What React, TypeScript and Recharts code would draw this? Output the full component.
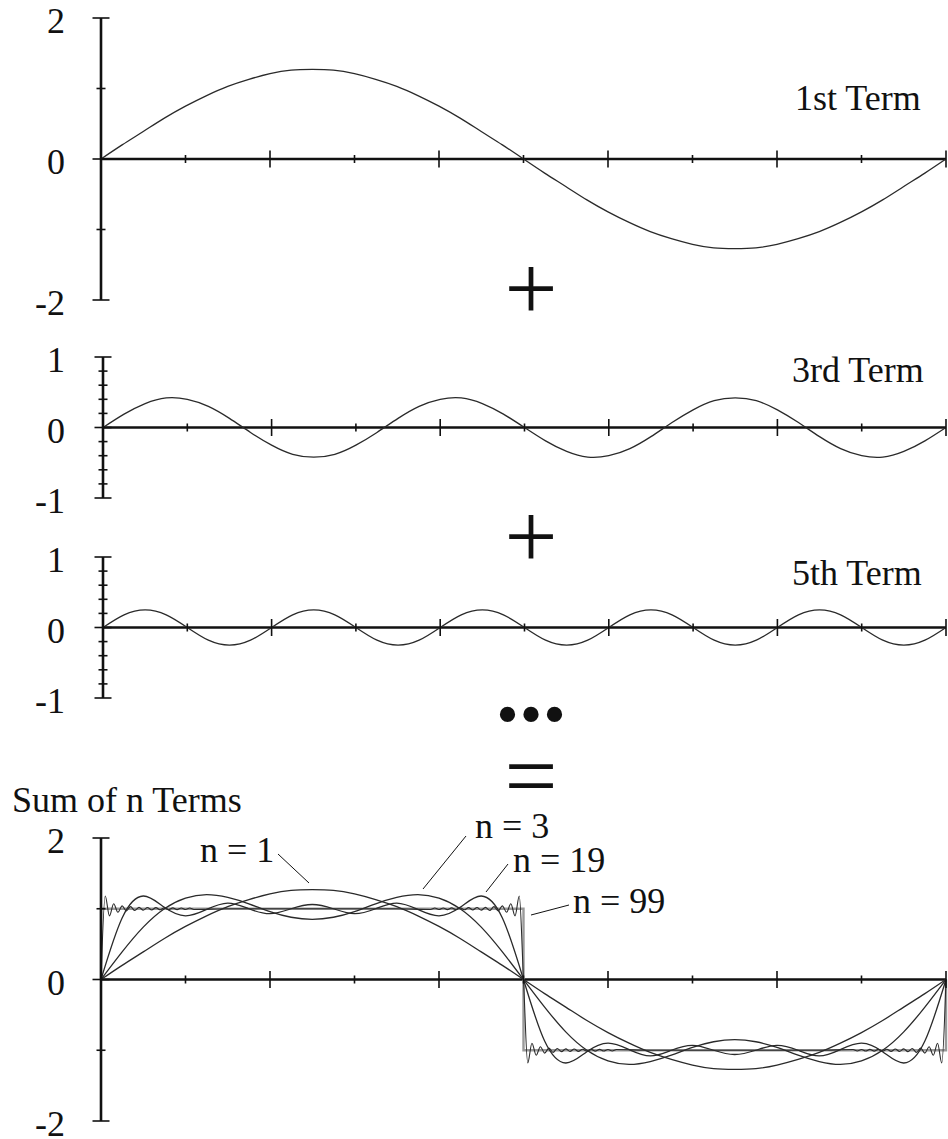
import React from "react";
import { LineChart, Line, XAxis, YAxis, ReferenceLine } from "recharts";

// shared x grid for the smooth curves (one full period = 10 units)
const xs = [
  0, 0.25, 0.5, 0.75, 1, 1.25, 1.5, 1.75, 2, 2.25, 2.5, 2.75, 3, 3.25, 3.5, 3.75, 4, 4.25, 4.5, 4.75, 5,
  5.25, 5.5, 5.75, 6, 6.25, 6.5, 6.75, 7, 7.25, 7.5, 7.75, 8, 8.25, 8.5, 8.75, 9, 9.25, 9.5, 9.75, 10,
];

const term1 = [
  0, 0.2, 0.39, 0.58, 0.75, 0.9, 1.03, 1.13, 1.21, 1.26, 1.27, 1.26, 1.21, 1.13, 1.03, 0.9, 0.75, 0.58, 0.39, 0.2, 0,
  -0.2, -0.39, -0.58, -0.75, -0.9, -1.03, -1.13, -1.21, -1.26, -1.27, -1.26, -1.21, -1.13, -1.03, -0.9, -0.75, -0.58, -0.39, -0.2, 0,
];

const term3 = [
  0, 0.19, 0.34, 0.42, 0.4, 0.3, 0.13, -0.07, -0.25, -0.38, -0.42, -0.38, -0.25, -0.07, 0.13, 0.3, 0.4, 0.42, 0.34, 0.19, 0,
  -0.19, -0.34, -0.42, -0.4, -0.3, -0.13, 0.07, 0.25, 0.38, 0.42, 0.38, 0.25, 0.07, -0.13, -0.3, -0.4, -0.42, -0.34, -0.19, 0,
];

const term5 = [
  0, 0.18, 0.25, 0.18, 0, -0.18, -0.25, -0.18, 0, 0.18, 0.25, 0.18, 0, -0.18, -0.25, -0.18, 0, 0.18, 0.25, 0.18, 0,
  -0.18, -0.25, -0.18, 0, 0.18, 0.25, 0.18, 0, -0.18, -0.25, -0.18, 0, 0.18, 0.25, 0.18, 0, -0.18, -0.25, -0.18, 0,
];

const sum3 = [
  0, 0.39, 0.74, 1.0, 1.15, 1.2, 1.16, 1.07, 0.96, 0.88, 0.85, 0.88, 0.96, 1.07, 1.16, 1.2, 1.15, 1.0, 0.74, 0.39, 0,
  -0.39, -0.74, -1.0, -1.15, -1.2, -1.16, -1.07, -0.96, -0.88, -0.85, -0.88, -0.96, -1.07, -1.16, -1.2, -1.15, -1.0, -0.74, -0.39, 0,
];

const sum19 = [
  0, 0.87, 1.18, 1.02, 0.9, 0.99, 1.08, 1.0, 0.93, 1.0, 1.06, 1.0, 0.93, 1.0, 1.08, 0.99, 0.9, 1.02, 1.18, 0.87, 0,
  -0.87, -1.18, -1.02, -0.9, -0.99, -1.08, -1.0, -0.93, -1.0, -1.06, -1.0, -0.93, -1.0, -1.08, -0.99, -0.9, -1.02, -1.18, -0.87, 0,
];

// n = 99 needs a finer grid near the jumps
const n99X = [
  0, 0.05, 0.1, 0.15, 0.2, 0.25, 0.3, 0.35, 0.4, 0.45, 0.5, 0.55, 0.6, 0.65, 0.7, 0.75, 0.8, 0.85, 0.9, 0.95, 1.0, 1.05, 1.1,
  1.5, 2.0, 2.5, 3.0, 3.5,
  3.9, 3.95, 4.0, 4.05, 4.1, 4.15, 4.2, 4.25, 4.3, 4.35, 4.4, 4.45, 4.5, 4.55, 4.6, 4.65, 4.7, 4.75, 4.8, 4.85, 4.9, 4.95, 5.0,
  5.05, 5.1, 5.15, 5.2, 5.25, 5.3, 5.35, 5.4, 5.45, 5.5, 5.55, 5.6, 5.65, 5.7, 5.75, 5.8, 5.85, 5.9, 5.95, 6.0, 6.05, 6.1,
  6.5, 7.0, 7.5, 8.0, 8.5,
  8.9, 8.95, 9.0, 9.05, 9.1, 9.15, 9.2, 9.25, 9.3, 9.35, 9.4, 9.45, 9.5, 9.55, 9.6, 9.65, 9.7, 9.75, 9.8, 9.85, 9.9, 9.95, 10.0,
];
const n99Y = [
  0, 1.18, 0.9, 1.07, 0.95, 1.04, 0.97, 1.03, 0.975, 1.02, 0.98, 1.018, 0.983, 1.016, 0.985, 1.014, 0.987, 1.012, 0.988, 1.011, 0.989, 1.01, 0.99,
  1, 1, 1, 1, 1,
  0.99, 1.01, 0.989, 1.011, 0.988, 1.012, 0.987, 1.014, 0.985, 1.016, 0.983, 1.018, 0.98, 1.02, 0.975, 1.03, 0.97, 1.04, 0.95, 1.07, 0.9, 1.18, 0,
  -1.18, -0.9, -1.07, -0.95, -1.04, -0.97, -1.03, -0.975, -1.02, -0.98, -1.018, -0.983, -1.016, -0.985, -1.014, -0.987, -1.012, -0.988, -1.011, -0.989, -1.01, -0.99,
  -1, -1, -1, -1, -1,
  -0.99, -1.01, -0.989, -1.011, -0.988, -1.012, -0.987, -1.014, -0.985, -1.016, -0.983, -1.018, -0.98, -1.02, -0.975, -1.03, -0.97, -1.04, -0.95, -1.07, -0.9, -1.18, 0,
];

// the target square wave
const squareX = [0, 0, 5, 5, 10, 10];
const squareY = [0, 1, 1, -1, -1, 0];

const xTicks = [0, 1, 2, 3, 4, 5, 6, 7, 8, 9, 10];
const bigTicks = [-2, -1, 0, 1, 2];
const bigLabels = [-2, 0, 2];
const smallTicks = [-1, -0.8, -0.6, -0.4, -0.2, 0, 0.2, 0.4, 0.6, 0.8, 1];
const smallLabels = [-1, 0, 1];

const FONT = "Liberation Serif, serif";
const INK = "#111";
const CURVE = "#2a2a2a";

const termRows = xs.map((x, i) => ({ x, t1: term1[i], t3: term3[i], t5: term5[i] }));
const sumRows = xs.map((x, i) => ({ x, s1: term1[i], s3: sum3[i], s19: sum19[i] }));
const n99Rows = n99X.map((x, i) => ({ x, y: n99Y[i] }));
const squareRows = squareX.map((x, i) => ({ x, y: squareY[i] }));

const M_TOP = 20;
const M_BOTTOM = 30;

function makeXTick(zeroY: number) {
  return (props: any) => {
    const { x, payload } = props;
    const h = payload.value % 2 === 0 ? 8.5 : 4;
    return <line x1={x} x2={x} y1={zeroY - h} y2={zeroY + h} stroke={INK} strokeWidth={1.6} />;
  };
}

function makeYTick(labels: number[], gap: number) {
  return (props: any) => {
    const { x, y, payload } = props;
    const v = payload.value;
    const labelled = labels.includes(v);
    const w = labelled ? 8.5 : 4.5;
    return (
      <g>
        <line x1={x - w} x2={x + w} y1={y} y2={y} stroke={INK} strokeWidth={1.6} />
        {labelled && (
          <text x={x - gap} y={y + 15} textAnchor="end" style={{ fontFamily: FONT, fontSize: 36 }} fill={INK}>
            {String(v)}
          </text>
        )}
      </g>
    );
  };
}

function Panel({
  top,
  left,
  plotH,
  max,
  ticks,
  labels,
  data,
  children,
}: {
  top: number;
  left: number;
  plotH: number;
  max: number;
  ticks: number[];
  labels: number[];
  data: any[];
  children: React.ReactNode;
}) {
  const zeroY = M_TOP + plotH / 2;
  return (
    <div style={{ position: "absolute", left: 0, top: top - M_TOP }}>
      <LineChart
        width={948}
        height={plotH + M_TOP + M_BOTTOM + 1}
        data={data}
        margin={{ top: M_TOP, right: 2, bottom: M_BOTTOM, left: 0 }}
      >
        <XAxis
          type="number"
          dataKey="x"
          domain={[0, 10]}
          ticks={xTicks}
          interval={0}
          height={1}
          axisLine={false}
          tickLine={false}
          tick={makeXTick(zeroY)}
        />
        <YAxis
          type="number"
          domain={[-max, max]}
          ticks={ticks}
          interval={0}
          width={left}
          tickSize={0}
          tickMargin={0}
          tickLine={false}
          axisLine={{ stroke: INK, strokeWidth: 2.6 }}
          tick={makeYTick(labels, left - 65)}
        />
        <ReferenceLine y={0} stroke={INK} strokeWidth={2.6} />
        {children}
      </LineChart>
    </div>
  );
}

const curve = {
  stroke: CURVE,
  strokeWidth: 1.3,
  dot: false,
  activeDot: false,
  isAnimationActive: false,
} as const;

const txt = { fontFamily: FONT, fontSize: 36 };
const sym = { fontFamily: FONT, fontSize: 94 };

export default function App() {
  return (
    <div
      style={{
        position: "absolute",
        left: 0,
        top: 0,
        width: 948,
        height: 1139,
        background: "#fff",
        overflow: "hidden",
        fontFamily: FONT,
      }}
    >
      <Panel top={18} left={101} plotH={282} max={2} ticks={bigTicks} labels={bigLabels} data={termRows}>
        <Line type="natural" dataKey="t1" {...curve} />
      </Panel>
      <Panel top={357} left={103} plotH={141} max={1} ticks={smallTicks} labels={smallLabels} data={termRows}>
        <Line type="natural" dataKey="t3" {...curve} />
      </Panel>
      <Panel top={557} left={103} plotH={141} max={1} ticks={smallTicks} labels={smallLabels} data={termRows}>
        <Line type="natural" dataKey="t5" {...curve} />
      </Panel>
      <Panel top={838} left={101} plotH={283} max={2} ticks={bigTicks} labels={bigLabels} data={sumRows}>
        <Line type="linear" data={squareRows} dataKey="y" {...curve} stroke="#9a9a9a" strokeWidth={2.4} />
        <Line type="natural" dataKey="s1" {...curve} />
        <Line type="natural" dataKey="s3" {...curve} />
        <Line type="natural" dataKey="s19" {...curve} />
        <Line type="monotone" data={n99Rows} dataKey="y" {...curve} strokeWidth={1.1} />
      </Panel>

      <svg
        width={948}
        height={1139}
        style={{ position: "absolute", left: 0, top: 0, pointerEvents: "none" }}
        fill={INK}
      >
        <text x={795} y={110} style={txt}>1st Term</text>
        <text x={792} y={382} style={txt}>3rd Term</text>
        <text x={792} y={585} style={txt}>5th Term</text>
        <text x={12} y={812} style={txt}>Sum of n Terms</text>

        <text x={531} y={320} style={sym} textAnchor="middle">+</text>
        <text x={531} y={568} style={sym} textAnchor="middle">+</text>
        <text x={531} y={721} style={{ ...sym, fontWeight: "bold" }} textAnchor="middle">...</text>
        <text x={531} y={807} style={sym} textAnchor="middle">=</text>

        <text x={200} y={862} style={txt}>n = 1</text>
        <line x1={278} y1={854} x2={309} y2={883} stroke={INK} strokeWidth={1} />
        <text x={475} y={838} style={txt}>n = 3</text>
        <line x1={466} y1={836} x2={423} y2={889} stroke={INK} strokeWidth={1} />
        <text x={513} y={872} style={txt}>n = 19</text>
        <line x1={508} y1={864} x2={486} y2={892} stroke={INK} strokeWidth={1} />
        <text x={573} y={913} style={txt}>n = 99</text>
        <line x1={569} y1={905} x2={531} y2={915} stroke={INK} strokeWidth={1} />
      </svg>
    </div>
  );
}
